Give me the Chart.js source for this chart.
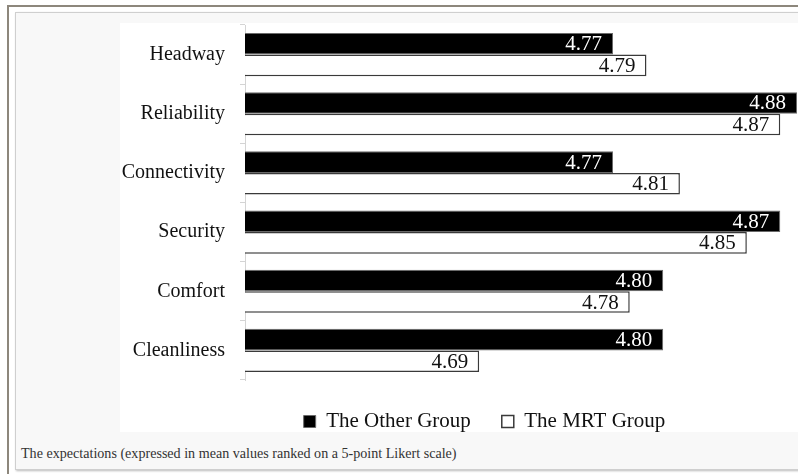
<!DOCTYPE html>
<html lang="en">
<head>
    <meta charset="UTF-8"/>
    <title>Expectations</title>
    <script src="https://cdn.jsdelivr.net/npm/chart.js"></script>
    <style>
        body { margin: 0; background: #fff; width: 798px; height: 474px; overflow: hidden; position: relative; }
        .marco { position: absolute; left: 7px; top: 5px; width: 820px; height: 500px;
                 border-top: 2px solid #8d877c; border-left: 2px solid #8d877c; }
        .caja { position: absolute; left: 15px; top: 12px; width: 820px; height: 456px;
                background: #f8f8f8; border: 1px solid #cfcfcf; box-shadow: 1px 1px 2px #bbb; }
        .fondo { position: absolute; left: 120px; top: 23px; width: 678px; height: 409px; background: #fff; }
        .grafico { position: absolute; left: 120px; top: 23px; width: 677px; height: 419px; }
        .pie { position: absolute; left: 21px; top: 445px; font: 14.1px "Liberation Serif", serif; color: #333; }
    </style>
</head>
<body>
    <div class="marco"></div>
    <div class="caja"></div>
    <div class="fondo"></div>
    <div class="grafico"><canvas id="expChart" width="677" height="419"></canvas></div>
    <div class="pie">The expectations (expressed in mean values ranked on a 5-point Likert scale)</div>
    <script>
        const categorias = ['Headway', 'Reliability', 'Connectivity', 'Security', 'Comfort', 'Cleanliness'];
        const otroGrupo = [4.77, 4.88, 4.77, 4.87, 4.80, 4.80];
        const grupoMRT = [4.79, 4.87, 4.81, 4.85, 4.78, 4.69];

        // etiquetas de valor dentro del extremo de cada barra
        const etiquetas = {
            id: 'etiquetas',
            afterLayout(chart) {
                // la leyenda del original queda algo a la derecha del centro
                chart.legend.left += 26;
                chart.legend.right += 26;
            },
            afterDatasetsDraw(chart) {
                const ctx = chart.ctx;
                ctx.save();
                ctx.font = '21px "Liberation Serif"';
                ctx.textAlign = 'right';
                ctx.textBaseline = 'middle';
                chart.data.datasets.forEach((ds, i) => {
                    ctx.fillStyle = i === 0 ? '#fff' : '#111';
                    chart.getDatasetMeta(i).data.forEach((bar, j) => {
                        ctx.fillText(ds.data[j].toFixed(2), bar.x - 11, bar.y + 1);
                    });
                });
                ctx.restore();
            }
        };

        new Chart(document.getElementById('expChart'), {
            type: 'bar',
            data: {
                labels: categorias,
                datasets: [{
                    label: 'The Other Group',
                    data: otroGrupo,
                    backgroundColor: '#000',
                    borderColor: '#6a6a6a',
                    borderWidth: 1
                }, {
                    label: 'The MRT Group',
                    data: grupoMRT,
                    backgroundColor: '#fff',
                    borderColor: '#3a3a3a',
                    borderWidth: 1.5
                }]
            },
            options: {
                indexAxis: 'y',
                responsive: false,
                animation: false,
                devicePixelRatio: 1,
                layout: { autoPadding: false, padding: { left: 0, top: 2, right: 0, bottom: 0 } },
                datasets: { bar: { categoryPercentage: 0.73, barPercentage: 1 } },
                plugins: {
                    legend: {
                        position: 'bottom',
                        labels: {
                            boxWidth: 12, boxHeight: 12, padding: 31,
                            color: '#111',
                            font: { family: 'Liberation Serif', size: 21 }
                        }
                    },
                    tooltip: { enabled: false }
                },
                scales: {
                    x: { display: false, min: 4.55, max: 4.88 },
                    y: {
                        afterFit(scale) {
                            scale.width = 125;
                            scale.paddingTop = 0;
                            scale.paddingBottom = 0;
                        },
                        grid: { drawOnChartArea: false, tickLength: 5, color: '#d4d4d4' },
                        border: { color: '#d4d4d4' },
                        ticks: { color: '#111', padding: 15, font: { family: 'Liberation Serif', size: 20 } }
                    }
                }
            },
            plugins: [etiquetas]
        });
    </script>
</body>
</html>
